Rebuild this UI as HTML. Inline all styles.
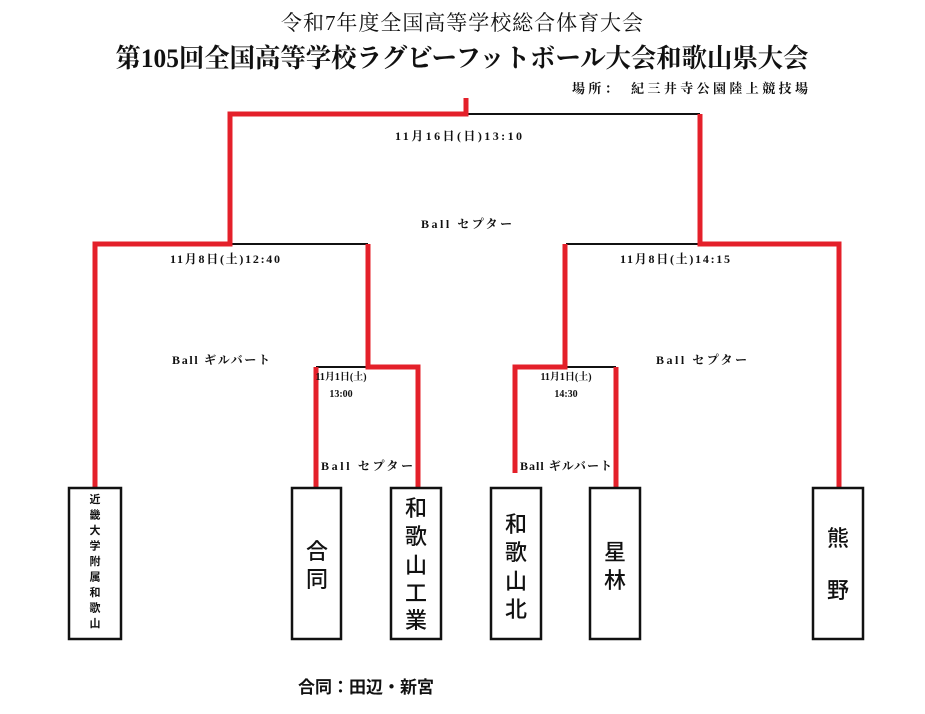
<!DOCTYPE html>
<html><head><meta charset="utf-8"><style>
html,body{margin:0;padding:0;background:#fff;}
svg{display:block;}
text{font-family:"Liberation Serif","Noto Serif CJK SC","Noto Sans CJK JP",serif;fill:#111;}
.g{font-family:"Liberation Sans","Noto Sans CJK JP",sans-serif;}
</style></head><body>
<svg width="925" height="714" viewBox="0 0 925 714" xmlns="http://www.w3.org/2000/svg">
<text x="462" y="30" font-size="21" text-anchor="middle" textLength="362" lengthAdjust="spacing">令和7年度全国高等学校総合体育大会</text>
<text x="462" y="67" font-size="26" text-anchor="middle" textLength="693" lengthAdjust="spacingAndGlyphs" font-weight="bold">第105回全国高等学校ラグビーフットボール大会和歌山県大会</text>
<text x="572" y="93" font-size="13" font-weight="bold" textLength="236" lengthAdjust="spacing">場所：　紀三井寺公園陸上競技場</text>

<g stroke="#111" stroke-width="2" fill="none">
<line x1="466" y1="114" x2="700" y2="114"/>
<line x1="230" y1="244" x2="368" y2="244"/>
<line x1="566" y1="244" x2="700" y2="244"/>
<line x1="316" y1="367" x2="368" y2="367"/>
<line x1="566" y1="367" x2="616" y2="367"/>
</g>
<g stroke="#e4202a" stroke-width="5" fill="none" stroke-linejoin="miter">
<polyline points="466,98 466,114 230,114 230,244 95,244 95,487"/>
<polyline points="700,114 700,244 839,244 839,487"/>
<polyline points="368,244 368,367 418,367 418,487"/>
<polyline points="316,367 316,487"/>
<polyline points="565,244 565,367 515,367 515,473"/>
<polyline points="616,367 616,487"/>
</g>
<g stroke="#111" stroke-width="2.5" fill="#fff">
<rect x="69" y="488" width="52" height="151"/>
<rect x="292" y="488" width="49" height="151"/>
<rect x="391" y="488" width="50" height="151"/>
<rect x="491" y="488" width="50" height="151"/>
<rect x="590" y="488" width="50" height="151"/>
<rect x="813" y="488" width="50" height="151"/>
</g>
<g font-size="11" font-weight="bold" text-anchor="middle">
<text class="g" x="95" y="503">近</text>
<text class="g" x="95" y="518.5">畿</text>
<text class="g" x="95" y="534">大</text>
<text class="g" x="95" y="549.5">学</text>
<text class="g" x="95" y="565">附</text>
<text class="g" x="95" y="580.5">属</text>
<text class="g" x="95" y="596">和</text>
<text class="g" x="95" y="611.5">歌</text>
<text class="g" x="95" y="627">山</text>
</g>
<g font-size="22" text-anchor="middle" font-weight="500">
<text class="g" x="317" y="559">合</text>
<text class="g" x="317" y="587">同</text>
<text class="g" x="416" y="516">和</text>
<text class="g" x="416" y="544">歌</text>
<text class="g" x="416" y="573">山</text>
<text class="g" x="416" y="601">工</text>
<text class="g" x="416" y="628">業</text>
<text class="g" x="516" y="532">和</text>
<text class="g" x="516" y="560">歌</text>
<text class="g" x="516" y="589">山</text>
<text class="g" x="516" y="617">北</text>
<text class="g" x="615" y="560">星</text>
<text class="g" x="615" y="588">林</text>
<text class="g" x="838" y="546">熊</text>
<text class="g" x="838" y="598">野</text>
</g>
<g font-size="12" font-weight="bold">
<text x="395" y="140" textLength="127" lengthAdjust="spacing">11月16日(日)13:10</text>
<text x="421" y="228" textLength="91" lengthAdjust="spacing">Ball セプター</text>
<text x="170" y="263" textLength="110" lengthAdjust="spacing">11月8日(土)12:40</text>
<text x="620" y="263" textLength="110" lengthAdjust="spacing">11月8日(土)14:15</text>
<text x="172" y="364" textLength="98" lengthAdjust="spacing">Ball ギルバート</text>
<text x="656" y="364" textLength="91" lengthAdjust="spacing">Ball セプター</text>
<text x="321" y="470" textLength="92" lengthAdjust="spacing">Ball セプター</text>
<text x="520" y="470" textLength="92" lengthAdjust="spacing">Ball ギルバート</text>
</g>
<g font-size="10" font-weight="bold" text-anchor="middle">
<text x="341" y="380">11月1日(土)</text>
<text x="341" y="397">13:00</text>
<text x="566" y="380">11月1日(土)</text>
<text x="566" y="397">14:30</text>
</g>
<text class="g" x="298" y="693" font-size="17" font-weight="bold">合同：田辺・新宮</text>
</svg>
</body></html>
